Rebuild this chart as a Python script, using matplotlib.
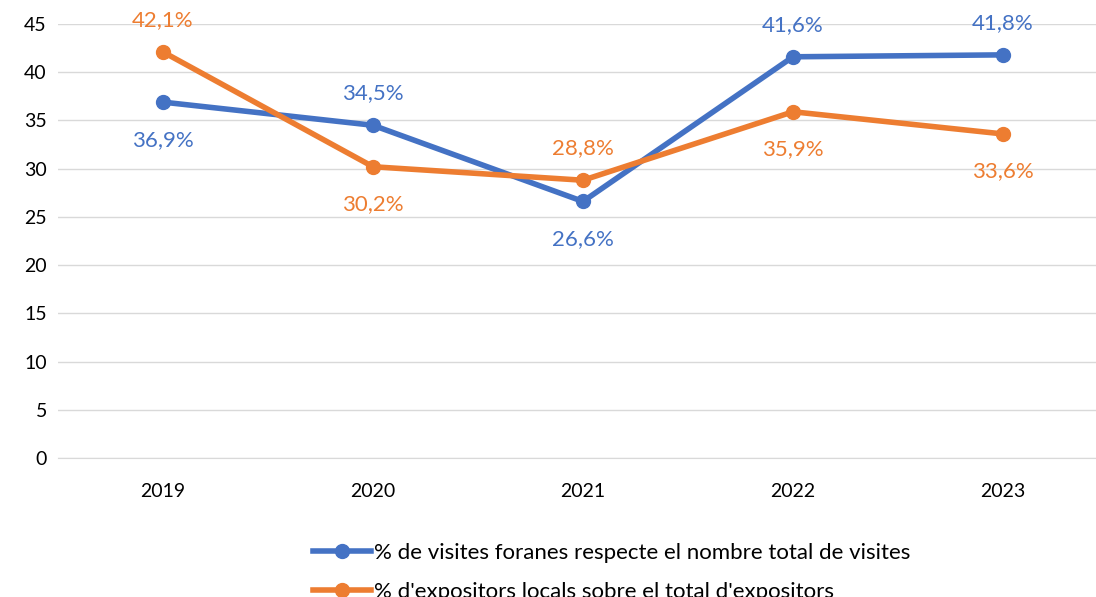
import matplotlib
matplotlib.use("Agg")
import matplotlib.pyplot as plt
from matplotlib.lines import Line2D

plt.rcParams['font.family'] = ['Lato', 'DejaVu Sans']

years = ["2019", "2020", "2021", "2022", "2023"]
visites = [36.9, 34.5, 26.6, 41.6, 41.8]
expositors = [42.1, 30.2, 28.8, 35.9, 33.6]
visites_pos = ["below", "above", "below", "above", "above"]
expositors_pos = ["above", "below", "above", "below", "below"]

blue = "#4472C4"
orange = "#ED7D31"

fig = plt.figure(figsize=(10.96, 5.97), dpi=100)
ax = fig.add_axes([58 / 1096, (597 - 458) / 597, 1 - 58 / 1096, (458 - 24) / 597])

x = list(range(len(years)))
ax.plot(x, visites, color=blue, lw=4, marker="o", ms=10, solid_capstyle="round", zorder=3)
ax.plot(x, expositors, color=orange, lw=4, marker="o", ms=10, solid_capstyle="round", zorder=3)

def add_labels(vals, pos, color):
    for i, (v, p) in enumerate(zip(vals, pos)):
        off = 23 if p == "above" else -27
        ax.annotate(f"{v:.1f}".replace(".", ",") + "%", (i, v), xytext=(0, off),
                    textcoords="offset points", ha="center", va="center",
                    color=color, fontsize=16, annotation_clip=False)

add_labels(visites, visites_pos, blue)
add_labels(expositors, expositors_pos, orange)

ax.set_ylim(0, 45)
ax.set_yticks(range(0, 46, 5))
ax.set_xlim(-0.5, -0.5 + 1038 / 210)
ax.set_xticks(x)
ax.set_xticklabels(years)
ax.grid(axis="y", color="#D9D9D9", lw=1)
ax.set_axisbelow(True)
for s in ["top", "right", "left"]:
    ax.spines[s].set_visible(False)
ax.spines["bottom"].set_color("#D9D9D9")
ax.tick_params(length=0, labelsize=14, colors="#000000", pad=8)
ax.tick_params(axis="x", pad=18)

handles = [
    Line2D([], [], color=blue, lw=4, marker="o", ms=10),
    Line2D([], [], color=orange, lw=4, marker="o", ms=10),
]
labels = ["% de visites foranes respecte el nombre total de visites",
          "% d'expositors locals sobre el total d'expositors"]
fig.legend(handles, labels, loc="upper left", bbox_to_anchor=(304 / 1096, 1 - 534 / 597),
           frameon=False, fontsize=16, handlelength=2.6, handletextpad=0.15,
           labelspacing=0.85, borderaxespad=0)

fig.savefig("out.png", dpi=100)
